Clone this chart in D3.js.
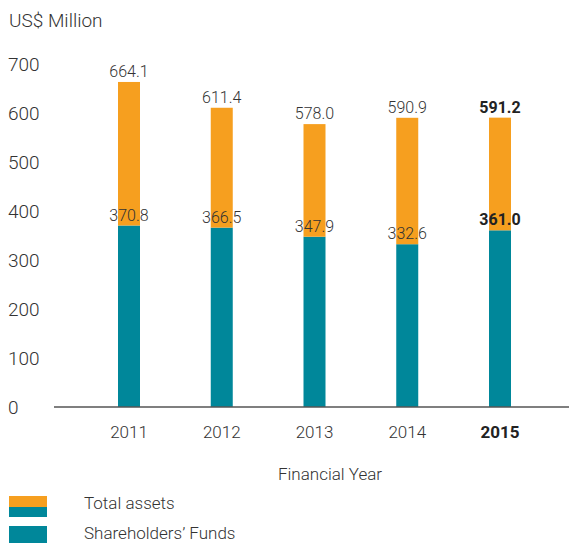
<!DOCTYPE html>
<html>
<head>
<meta charset="utf-8">
<script src="https://cdn.jsdelivr.net/npm/d3@7"></script>
<style>
  body { margin: 0; background: #fff; }
  svg text { font-family: Roboto, "Liberation Sans", sans-serif; font-weight: 300; fill: #333; }
</style>
</head>
<body>
<div id="chart"></div>
<script>
const years = ["2011", "2012", "2013", "2014", "2015"]
const totalAssets = [664.1, 611.4, 578.0, 590.9, 591.2]
const shareholdersFunds = [370.8, 366.5, 347.9, 332.6, 361.0]
const yTicks = [0, 100, 200, 300, 400, 500, 600, 700]
const legendLabels = ["Total assets", "Shareholders\u2019 Funds"]

var width = 569
var height = 543
var orange = "#F69F1F"
var teal = "#00879A"
var barWidth = 22

var svg = d3.select("#chart").append("svg")
  .attr("width", width)
  .attr("height", height)

var xScale = d3.scalePoint()
  .domain(years)
  .range([129, 500])

var yScale = d3.scaleLinear()
  .domain([0, 700])
  .range([407, 64.4])

// y unit + tick labels (no axis line)
svg.append("text")
  .attr("x", 9)
  .attr("y", 27)
  .style("font-size", "19px")
  .text("US$ Million")

svg.selectAll(".ytick")
  .data(yTicks)
  .enter().append("text")
  .attr("class", "ytick")
  .attr("x", 8)
  .attr("y", d => yScale(d))
  .attr("dy", "0.36em")
  .style("font-size", "19px")
  .text(d => d)

var rows = years.map((y, i) => ({ year: y, total: totalAssets[i], sf: shareholdersFunds[i], last: i === years.length - 1 }))

// teal: shareholders' funds from 0
svg.selectAll(".sf")
  .data(rows)
  .enter().append("rect")
  .attr("class", "sf")
  .attr("x", d => xScale(d.year) - barWidth / 2)
  .attr("width", barWidth)
  .attr("y", d => yScale(d.sf))
  .attr("height", d => yScale(0) - yScale(d.sf))
  .attr("fill", teal)

// orange: rest up to total assets
svg.selectAll(".ta")
  .data(rows)
  .enter().append("rect")
  .attr("class", "ta")
  .attr("x", d => xScale(d.year) - barWidth / 2)
  .attr("width", barWidth)
  .attr("y", d => yScale(d.total))
  .attr("height", d => yScale(d.sf) - yScale(d.total))
  .attr("fill", orange)

// baseline
svg.append("line")
  .attr("x1", 54).attr("x2", width)
  .attr("y1", yScale(0)).attr("y2", yScale(0))
  .attr("stroke", "#555")
  .attr("stroke-width", 1.5)

// value labels
function valueLabels(cls, key) {
  svg.selectAll("." + cls)
    .data(rows)
    .enter().append("text")
    .attr("class", cls)
    .attr("x", d => xScale(d.year))
    .attr("y", d => yScale(d[key]) - 5)
    .attr("text-anchor", "middle")
    .style("font-size", "16px")
    .style("font-weight", d => d.last ? 700 : 300)
    .style("fill", d => d.last ? "#222" : "#333")
    .text(d => d[key].toFixed(1))
}
valueLabels("ta-label", "total")
valueLabels("sf-label", "sf")

// x labels
svg.selectAll(".xtick")
  .data(rows)
  .enter().append("text")
  .attr("class", "xtick")
  .attr("x", d => xScale(d.year))
  .attr("y", 432)
  .attr("dy", "0.36em")
  .attr("text-anchor", "middle")
  .style("font-size", "17px")
  .style("font-weight", d => d.last ? 700 : 300)
  .style("fill", d => d.last ? "#222" : "#333")
  .text(d => d.year)

svg.append("text")
  .attr("x", 330)
  .attr("y", 474)
  .attr("dy", "0.36em")
  .attr("text-anchor", "middle")
  .style("font-size", "17px")
  .text("Financial Year")

// legend
var legend = svg.append("g")
legend.append("rect").attr("x", 9).attr("y", 496).attr("width", 38).attr("height", 11).attr("fill", orange)
legend.append("rect").attr("x", 9).attr("y", 507).attr("width", 38).attr("height", 10).attr("fill", teal)
legend.append("rect").attr("x", 9).attr("y", 526).attr("width", 38).attr("height", 17).attr("fill", teal)

legend.selectAll(".leg-label")
  .data(legendLabels)
  .enter().append("text")
  .attr("class", "leg-label")
  .attr("x", 84)
  .attr("y", (d, i) => 503 + i * 30)
  .attr("dy", "0.36em")
  .style("font-size", "17px")
  .text(d => d)
</script>
</body>
</html>
